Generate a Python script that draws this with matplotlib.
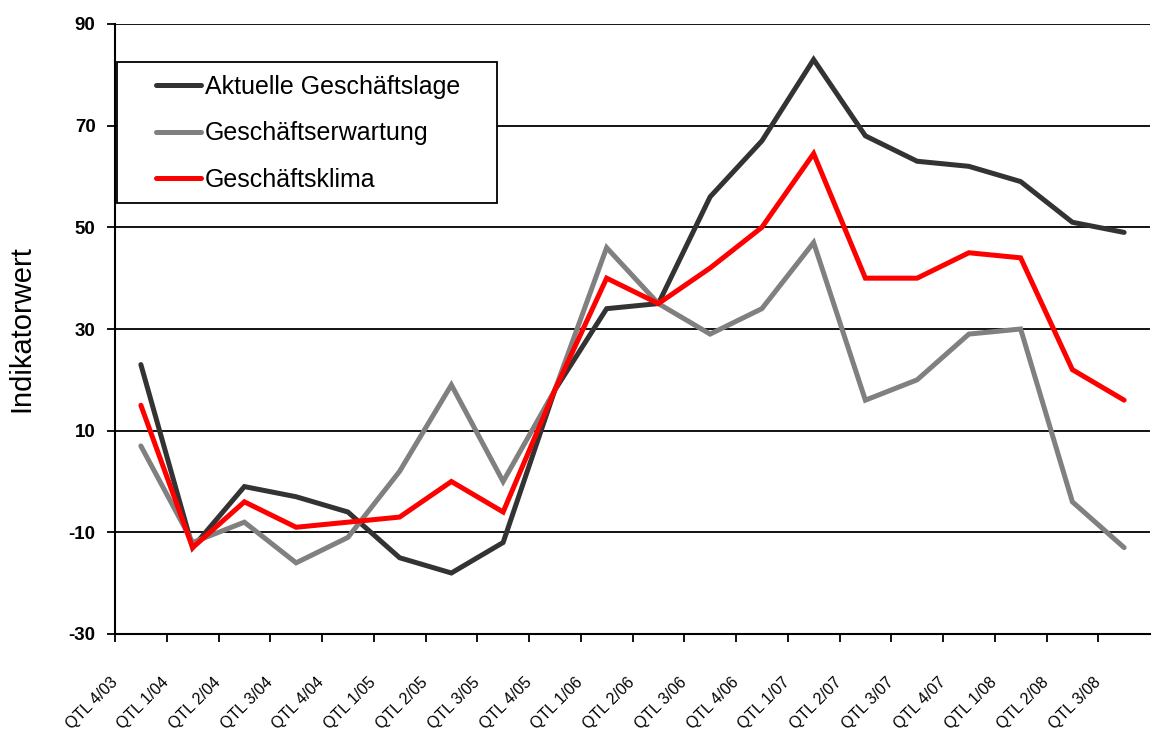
import numpy as np
import matplotlib.pyplot as plt
from matplotlib.patches import Rectangle

plt.rcParams['font.family'] = ['Liberation Sans', 'DejaVu Sans']

quartale = ["QTL 4/03", "QTL 1/04", "QTL 2/04", "QTL 3/04", "QTL 4/04",
            "QTL 1/05", "QTL 2/05", "QTL 3/05", "QTL 4/05", "QTL 1/06",
            "QTL 2/06", "QTL 3/06", "QTL 4/06", "QTL 1/07", "QTL 2/07",
            "QTL 3/07", "QTL 4/07", "QTL 1/08", "QTL 2/08", "QTL 3/08"]

lage = [23, -13, -1, -3, -6, -15, -18, -12, 18, 34,
        35, 56, 67, 83, 68, 63, 62, 59, 51, 49]
erwartung = [7, -12, -8, -16, -11, 2, 19, 0, 18, 46,
             35, 29, 34, 47, 16, 20, 29, 30, -4, -13]
klima = [15, -13, -4, -9, -8, -7, 0, -6, 18, 40,
         35, 42, 50, 64.5, 40, 40, 45, 44, 22, 16]

namen = ["Aktuelle Geschäftslage", "Geschäftserwartung", "Geschäftsklima"]
farben = ["#333333", "#808080", "#ff0000"]

fig = plt.figure(figsize=(11.55, 7.31), dpi=100)
ax = fig.add_axes([115/1155, 1 - 634/731, 1035/1155, 610/731])

x = np.arange(len(quartale))
for werte, name, farbe in zip([lage, erwartung, klima], namen, farben):
    ax.plot(x, werte, color=farbe, lw=3.6, label=name, zorder=4,
            solid_capstyle='round', solid_joinstyle='miter')

ax.set_xlim(-0.5, len(quartale) - 0.5)
ax.set_ylim(-30, 90)
ax.set_yticks(np.arange(-30, 91, 20))
ax.set_yticklabels([str(v) for v in range(-30, 91, 20)],
                   fontsize=13.5, fontweight='bold')
ax.yaxis.grid(True, color='black', lw=1.3)
ax.set_axisbelow(True)

ax.set_xticks(x - 0.5)
ax.set_xticklabels(quartale, rotation=45, ha='right', va='center',
                   rotation_mode='anchor', fontsize=11.5)
ax.tick_params(axis='x', direction='out', length=6, width=1.3, pad=27)
ax.tick_params(axis='y', direction='out', length=6, width=1.3, pad=8)

for s in ['top', 'right']:
    ax.spines[s].set_visible(False)
for s in ['left', 'bottom']:
    ax.spines[s].set_linewidth(1.5)

ax.set_ylabel("Indikatorwert", fontsize=21)
ax.yaxis.set_label_coords(-0.077, 0.5)

# Legendenrahmen von Hand, damit die Abstaende stimmen
ax.add_patch(Rectangle((0.0019, 0.7066), 0.367, 0.2311, transform=ax.transAxes,
                       facecolor='white', edgecolor='black', lw=1.3, zorder=5))
ax.legend(loc='upper left', bbox_to_anchor=(0.040, 0.9168), frameon=False,
          fontsize=18, handlelength=1.8, handletextpad=0.15,
          labelspacing=0.9, borderpad=0, borderaxespad=0).set_zorder(6)

fig.savefig("out.png", dpi=100)
